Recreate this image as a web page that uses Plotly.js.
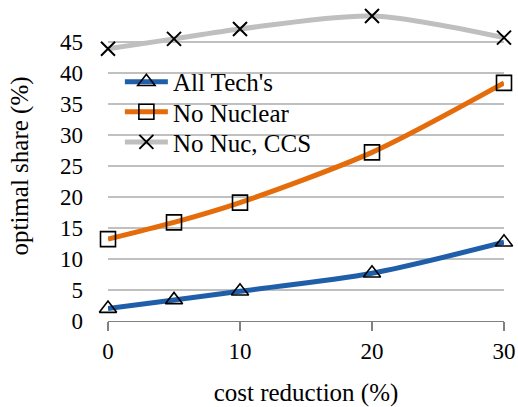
<!DOCTYPE html>
<html>
<head>
<meta charset="utf-8">
<script src="https://cdn.plot.ly/plotly-3.0.1.min.js"></script>
</head>
<body style="margin:0;background:#fff">
<div id="chart" style="width:518px;height:407px"></div>
<script>
// Cost reduction steps (%) on the x axis
const costReduction = [0, 5, 10, 20, 30];

// Optimal share (%) for each technology scenario
const allTechs   = [2.0, 3.4, 4.8, 7.7, 12.7];
const noNuclear  = [13.2, 15.9, 19.1, 27.2, 38.4];
const noNucCCS   = [43.9, 45.5, 47.1, 49.2, 45.7];

const seriesNames = ["All Tech's", "No Nuclear", "No Nuc, CCS"];
const yTicks = [0, 5, 10, 15, 20, 25, 30, 35, 40, 45];
const xTicks = [0, 10, 20, 30];

function series(name, y, color, symbol, size, legendId) {
  return {
    x: costReduction, y: y, name: name, legend: legendId,
    type: 'scatter', mode: 'lines+markers',
    line: { color: color, width: 5, shape: 'spline', smoothing: 0.8 },
    // open symbols take their stroke colour from marker.color
    marker: { symbol: symbol, size: size, color: '#000', line: { width: 1.6 } },
    cliponaxis: false
  };
}

const data = [
  series(seriesNames[0], allTechs,  '#1f5fa9', 'triangle-up-open', 15, 'legend'),
  series(seriesNames[1], noNuclear, '#e46c0a', 'square-open', 15, 'legend2'),
  series(seriesNames[2], noNucCCS,  '#bfbfbf', 'x-thin-open', 14, 'legend3')
];
data[2].marker.line = { width: 2 };

// one legend per series so the rows can sit closer together
function legendBox(yPos) {
  return {
    x: 0.03, y: yPos, xanchor: 'left', yanchor: 'middle',
    bgcolor: 'rgba(0,0,0,0)', borderwidth: 0,
    font: { size: 25 },
    itemwidth: 43
  };
}

const layout = {
  width: 518, height: 407,
  margin: { l: 108, r: 14, t: 11, b: 86 },
  paper_bgcolor: '#fff', plot_bgcolor: '#fff',
  font: { family: 'Liberation Serif', size: 23, color: '#000' },
  showlegend: true,
  legend: legendBox(0.771),
  legend2: legendBox(0.674),
  legend3: legendBox(0.577),
  // white panel behind the legend rows, hiding the gridlines there
  shapes: [{
    type: 'rect', xref: 'paper', yref: 'paper',
    x0: 0.01, x1: 0.573, y0: 0.52, y1: 0.835,
    fillcolor: '#fff', line: { width: 0 }, layer: 'between'
  }],
  xaxis: {
    range: [0, 30], tickvals: xTicks, ticktext: xTicks.map(String),
    showgrid: false, zeroline: false,
    showline: true, linecolor: '#808080', linewidth: 1.2,
    ticks: 'outside', ticklen: 9, tickcolor: '#808080', tickwidth: 1.2,
    ticklabelstandoff: 0,
    title: { text: 'cost reduction (%)', font: { size: 25 }, standoff: 21 }
  },
  yaxis: {
    range: [0, 50], tickvals: yTicks, ticktext: yTicks.map(String),
    showgrid: true, gridcolor: '#c0c0c0', gridwidth: 1.5,
    zeroline: false, showline: false, ticks: '',
    ticklabelstandoff: 24,
    title: { text: 'optimal share (%)', font: { size: 25 }, standoff: 24 }
  }
};

Plotly.newPlot('chart', data, layout, { staticPlot: true });
</script>
</body>
</html>
